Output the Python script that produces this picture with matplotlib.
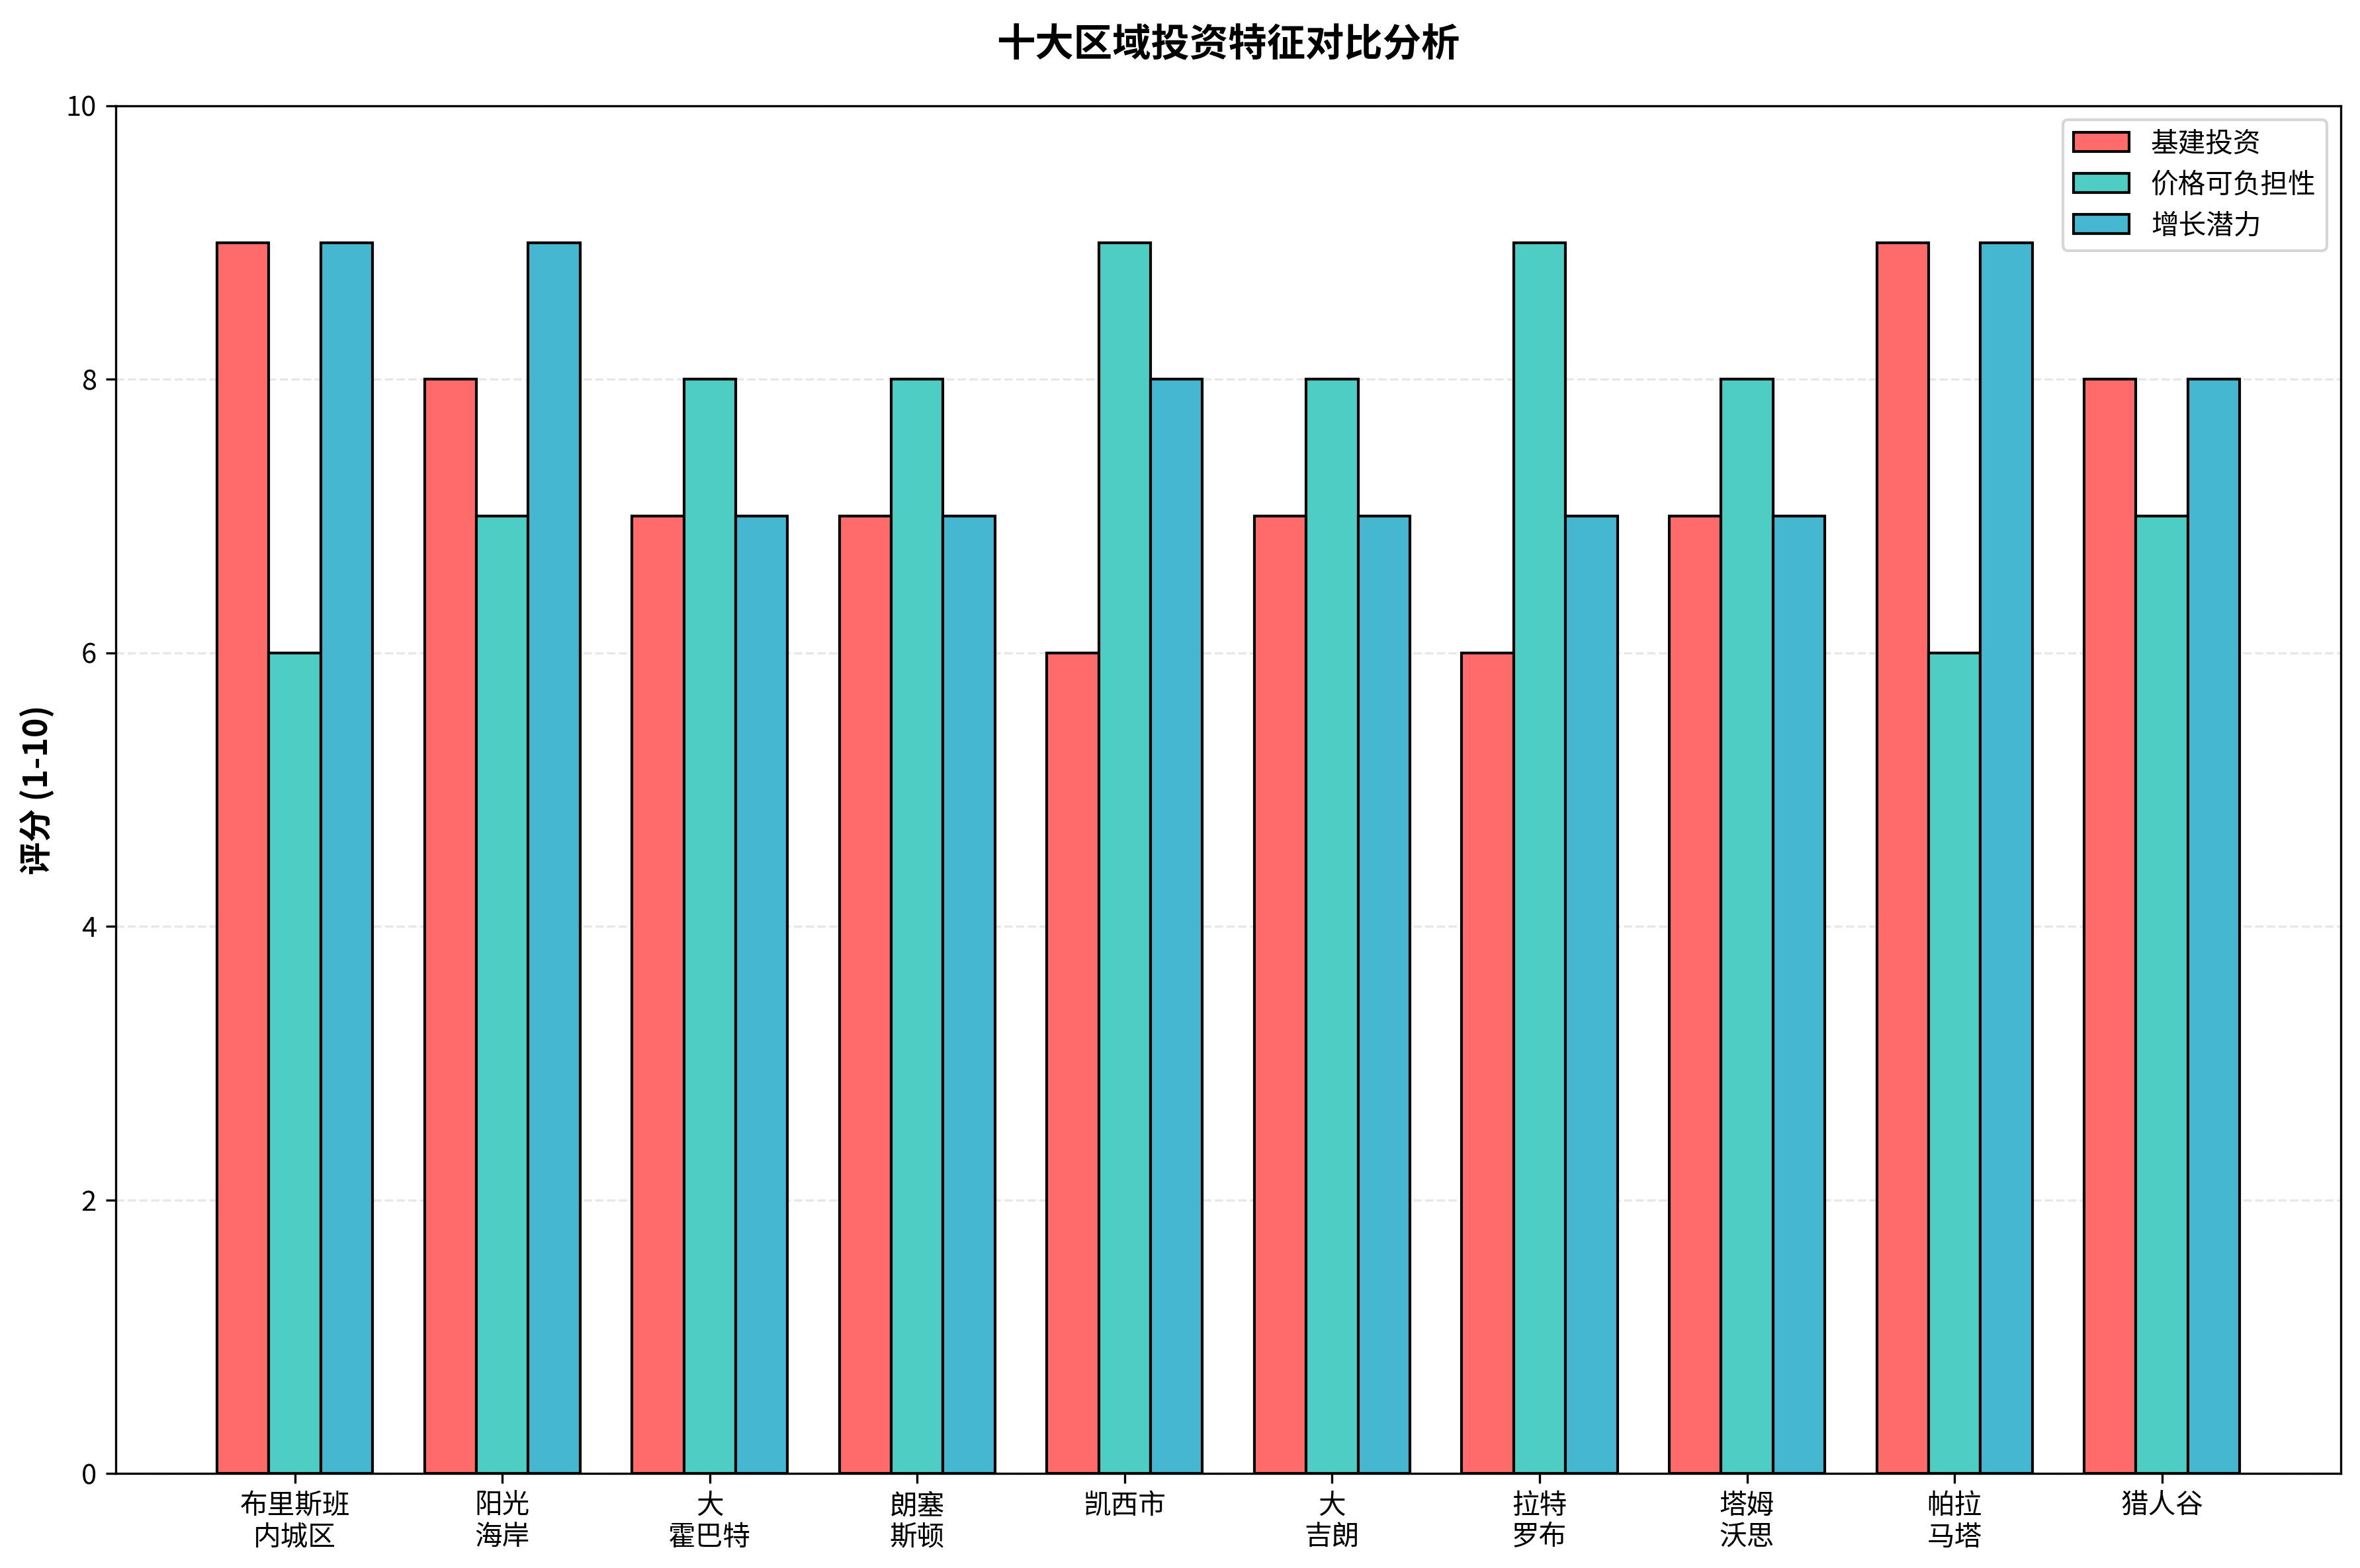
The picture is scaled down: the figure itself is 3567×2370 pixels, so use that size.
import matplotlib
matplotlib.use('Agg')
import matplotlib.pyplot as plt
import numpy as np

plt.rcParams['font.family'] = ['Noto Sans CJK SC', 'DejaVu Sans']
plt.rcParams['axes.unicode_minus'] = False

regions = ['布里斯班\n内城区', '阳光\n海岸', '大\n霍巴特', '朗塞\n斯顿', '凯西市',
           '大\n吉朗', '拉特\n罗布', '塔姆\n沃思', '帕拉\n马塔', '猎人谷']
infra = [9, 8, 7, 7, 6, 7, 6, 7, 9, 8]
afford = [6, 7, 8, 8, 9, 8, 9, 8, 6, 7]
growth = [9, 9, 7, 7, 8, 7, 7, 7, 9, 8]
series_names = ['基建投资', '价格可负担性', '增长潜力']
colors = ['#FF6B6B', '#4ECDC4', '#45B7D1']

fig = plt.figure(figsize=(3567 / 300, 2370 / 300), dpi=300)
ax = fig.add_axes([0.0491, 0.0603, 0.9428, 0.8722])

x = np.arange(len(regions))
width = 0.25
for i, (vals, name, c) in enumerate(zip([infra, afford, growth], series_names, colors)):
    ax.bar(x + (i - 1) * width, vals, width, label=name, color=c,
           edgecolor='black', linewidth=1)

ax.set_ylim(0, 10)
ax.set_xticks(x)
ax.set_xticklabels(regions, fontsize=10)
ax.tick_params(axis='y', labelsize=10)
ax.set_ylabel('评分 (1-10)', fontsize=12, fontweight='bold')
ax.set_title('十大区域投资特征对比分析', fontsize=14, fontweight='bold', pad=18)
ax.grid(axis='y', linestyle='--', alpha=0.3)
ax.set_axisbelow(True)
ax.legend(loc='upper right', fontsize=10)

fig.savefig('out.png', dpi=300)
